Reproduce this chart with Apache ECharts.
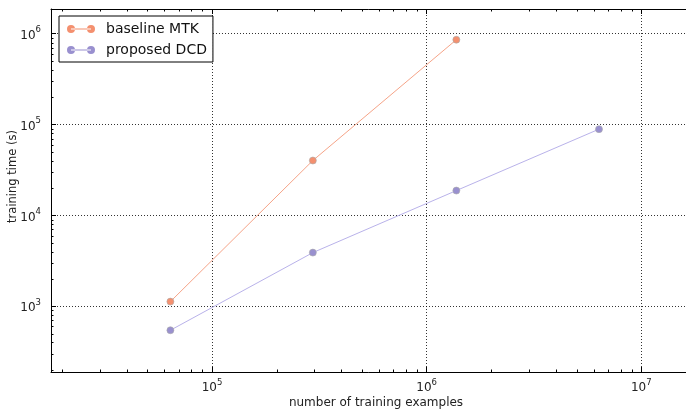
<!DOCTYPE html>
<html><head><meta charset="utf-8">
<script src="https://cdn.jsdelivr.net/npm/echarts@6/dist/echarts.min.js"></script>
<style>html,body{margin:0;padding:0;background:#fff}#c{width:686px;height:409px}</style>
</head><body><div id="c"></div>
<script>
// ---- data ----
const seriesNames = ['baseline MTK', 'proposed DCD'];
const mtkX = [64000, 295000, 1375000];
const mtkY = [1124, 40200, 859000];
const dcdX = [64000, 295000, 1375000, 6350000];
const dcdY = [544, 3893, 18760, 88960];
// axis ranges (log10 exponents) and minor ticks
const xExp = [4.25, 7.278];
const yExp = [2.276, 6.272];
const mantissas = [2, 3, 4, 5, 6, 7, 8, 9];
const xMinorDecades = [1e4, 1e5, 1e6, 1e7];
const yMinorDecades = [1e2, 1e3, 1e4, 1e5];

const xMin = Math.pow(10, xExp[0]), xMax = Math.pow(10, xExp[1]);
const yMin = Math.pow(10, yExp[0]), yMax = Math.pow(10, yExp[1]);
const minorData = [];
xMinorDecades.forEach(d => mantissas.forEach(m => { const v = m * d; if (v > xMin && v < xMax) minorData.push([v, yMin, 0]); }));
yMinorDecades.forEach(d => mantissas.forEach(m => { const v = m * d; if (v > yMin && v < yMax) minorData.push([xMin, v, 1]); }));

const FONT = 'DejaVu Sans';
function powLabel(v) {
  const e = Math.log10(v);
  const r = Math.round(e);
  if (Math.abs(e - r) > 1e-6) return '';
  return '{b|10}{s|' + r + '}';
}
const rich = {
  b: { fontFamily: FONT, fontSize: 12, color: '#222', lineHeight: 16, verticalAlign: 'bottom' },
  s: { fontFamily: FONT, fontSize: 8.5, color: '#222', lineHeight: 16, verticalAlign: 'top' }
};
const legendIcon = 'path://M0,4a4,4 0 1,0 8,0a4,4 0 1,0 -8,0Z M20,4a4,4 0 1,0 8,0a4,4 0 1,0 -8,0Z M4,3.6h20v0.8h-20Z';
const splitLine = { show: true, lineStyle: { color: '#000', type: [1, 2], width: 1, opacity: 0.8 } };
const axisLine = { show: true, onZero: false, lineStyle: { color: '#000', width: 1 } };
const axisTick = { show: true, inside: true, length: 5, lineStyle: { color: '#000', width: 1 } };

const chart = echarts.init(document.getElementById('c'), null, { renderer: 'canvas' });
chart.setOption({
  animation: false,
  backgroundColor: '#fff',
  grid: { left: 51, top: 9, right: -15, bottom: 37, containLabel: false, outerBoundsMode: 'none' },
  legend: {
    left: 59, top: 16, orient: 'vertical',
    data: seriesNames,
    icon: legendIcon, itemWidth: 28, itemHeight: 8, itemGap: 7,
    itemStyle: { borderWidth: 0 },
    padding: [6, 6, 5, 8],
    borderColor: '#000', borderWidth: 1, backgroundColor: '#fff', borderRadius: 0,
    textStyle: { fontFamily: FONT, fontSize: 14, color: '#111', padding: [0, 0, 0, 6] }
  },
  xAxis: [{
    type: 'log', logBase: 10, min: xMin, max: xMax, position: 'bottom',
    name: 'number of training examples', nameLocation: 'middle', nameGap: 25, nameMoveOverlap: false,
    nameTextStyle: { fontFamily: FONT, fontSize: 12, color: '#222' },
    axisLine, axisTick, splitLine,
    axisLabel: { formatter: powLabel, rich, margin: 6, showMinLabel: false, showMaxLabel: false }
  }, {
    type: 'log', logBase: 10, min: xMin, max: xMax, position: 'top',
    axisLine, axisTick, splitLine: { show: false }, axisLabel: { show: false }
  }],
  yAxis: [{
    type: 'log', logBase: 10, min: yMin, max: yMax, position: 'left',
    name: 'training time (s)', nameLocation: 'middle', nameGap: 32, nameRotate: 90, nameMoveOverlap: false,
    nameTextStyle: { fontFamily: FONT, fontSize: 11.5, color: '#222', padding: [0, 0, 0, 28] },
    axisLine, axisTick, splitLine,
    axisLabel: { formatter: powLabel, rich, margin: 10, showMinLabel: false, showMaxLabel: false }
  }, {
    type: 'log', logBase: 10, min: yMin, max: yMax, position: 'right',
    axisLine, axisTick, splitLine: { show: false }, axisLabel: { show: false }
  }],
  series: [{
    name: seriesNames[0], type: 'line', xAxisIndex: 0, yAxisIndex: 0,
    data: mtkX.map((x, i) => [x, mtkY[i]]),
    symbol: 'circle', symbolSize: 7,
    itemStyle: { color: '#f4906f', borderColor: '#aaa', borderWidth: 0.6 },
    lineStyle: { color: '#f6a488', width: 1 }
  }, {
    name: seriesNames[1], type: 'line', xAxisIndex: 0, yAxisIndex: 0,
    data: dcdX.map((x, i) => [x, dcdY[i]]),
    symbol: 'circle', symbolSize: 7,
    itemStyle: { color: '#9990cf', borderColor: '#aaa', borderWidth: 0.6 },
    lineStyle: { color: '#b9b2ea', width: 1 }
  }, {
    type: 'custom', xAxisIndex: 0, yAxisIndex: 0, silent: true, clip: false, z: 5,
    data: minorData,
    renderItem: function (params, api) {
      const cs = params.coordSys;
      const p = api.coord([api.value(0), api.value(1)]);
      const L = 2.5;
      const st = { stroke: '#000', lineWidth: 1 };
      if (api.value(2) === 0) {
        const x = Math.round(p[0]) + 0.5;
        return { type: 'group', children: [
          { type: 'line', shape: { x1: x, y1: cs.y + cs.height, x2: x, y2: cs.y + cs.height - L }, style: st },
          { type: 'line', shape: { x1: x, y1: cs.y, x2: x, y2: cs.y + L }, style: st }
        ]};
      } else {
        const y = Math.round(p[1]) + 0.5;
        return { type: 'group', children: [
          { type: 'line', shape: { x1: cs.x, y1: y, x2: cs.x + L, y2: y }, style: st },
          { type: 'line', shape: { x1: cs.x + cs.width, y1: y, x2: cs.x + cs.width - L, y2: y }, style: st }
        ]};
      }
    }
  }]
});
</script></body></html>
